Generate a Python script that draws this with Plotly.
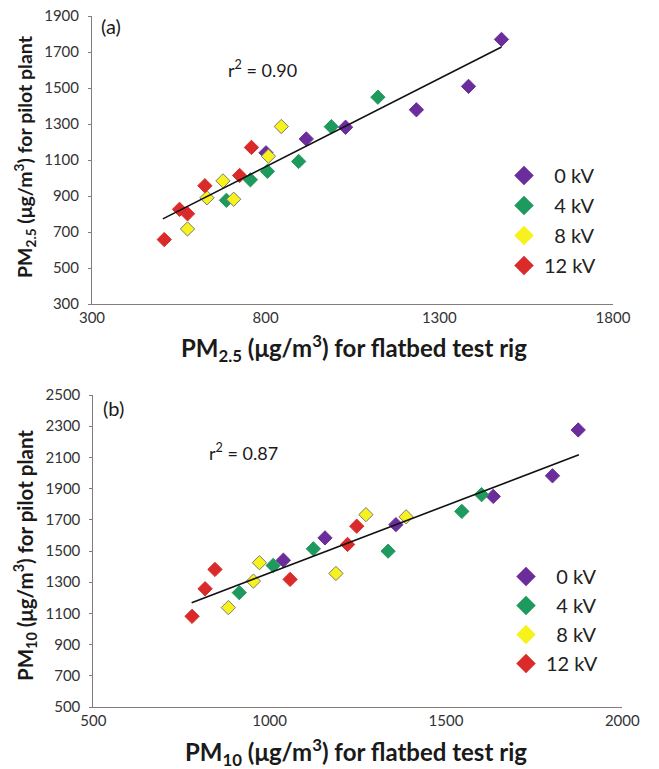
import plotly.graph_objects as go

W, H = 659, 769

series_names = ["0 kV", "4 kV", "8 kV", "12 kV"]
series_colors = ["#6B2D9C", "#1F9A5E", "#F7F21E", "#DA2A2A"]
series_outline = ["#6B2D9C", "#1F9A5E", "#7A7A7A", "#DA2A2A"]

# Panel (a): PM2.5
a_x_0kv = [1479, 1384, 1234, 1030, 917, 801]
a_y_0kv = [1770, 1509, 1379, 1282, 1217, 1140]
a_x_4kv = [1123, 989, 895, 805, 756, 687]
a_y_4kv = [1449, 1285, 1092, 1037, 990, 876]
a_x_8kv = [845, 808, 677, 631, 708, 575]
a_y_8kv = [1286, 1121, 984, 890, 882, 717]
a_x_12kv = [759, 725, 625, 552, 575, 508]
a_y_12kv = [1170, 1014, 957, 826, 801, 658]
a_fit_x = [504, 1479]
a_fit_y = [773, 1728]
a_xticks = [300, 800, 1300, 1800]
a_yticks = [300, 500, 700, 900, 1100, 1300, 1500, 1700, 1900]

# Panel (b): PM10
b_x_0kv = [1875, 1802, 1634, 1358, 1157, 1039]
b_y_0kv = [2276, 1982, 1850, 1669, 1584, 1441]
b_x_4kv = [1601, 1545, 1336, 1124, 1010, 914]
b_y_4kv = [1861, 1754, 1499, 1514, 1407, 1233]
b_x_8kv = [1387, 1273, 1188, 971, 954, 883]
b_y_8kv = [1719, 1733, 1356, 1425, 1307, 1137]
b_x_12kv = [1247, 1221, 1058, 845, 817, 780]
b_y_12kv = [1659, 1542, 1318, 1382, 1258, 1081]
b_fit_x = [779, 1877]
b_fit_y = [1169, 2117]
b_xticks = [500, 1000, 1500, 2000]
b_yticks = [500, 700, 900, 1100, 1300, 1500, 1700, 1900, 2100, 2300, 2500]

FONT = "Lato"


def px(x):
    return x / W


def py(y):
    return 1 - y / H


fig = go.Figure()

panels = [
    ("x", "y", "legend", [(a_x_0kv, a_y_0kv), (a_x_4kv, a_y_4kv), (a_x_8kv, a_y_8kv), (a_x_12kv, a_y_12kv)], a_fit_x, a_fit_y),
    ("x2", "y2", "legend2", [(b_x_0kv, b_y_0kv), (b_x_4kv, b_y_4kv), (b_x_8kv, b_y_8kv), (b_x_12kv, b_y_12kv)], b_fit_x, b_fit_y),
]
legend_labels = ["\u00a0\u00a00 kV", "\u00a0\u00a04 kV", "\u00a0\u00a08 kV", "12 kV"]

for xa, ya, lg, data, fx, fy in panels:
    for i, (xs, ys) in enumerate(data):
        fig.add_trace(go.Scatter(
            x=xs, y=ys, mode="markers", xaxis=xa, yaxis=ya, showlegend=False,
            marker=dict(symbol="diamond", size=11, color=series_colors[i],
                        line=dict(color=series_outline[i], width=1)),
        ))
    fig.add_trace(go.Scatter(x=fx, y=fy, mode="lines", xaxis=xa, yaxis=ya, showlegend=False,
                             line=dict(color="#111111", width=1.6)))
    for i, name in enumerate(series_names):
        fig.add_trace(go.Scatter(
            x=[None], y=[None], mode="markers", xaxis=xa, yaxis=ya, name=legend_labels[i],
            legend=lg, legendgroup=lg + name, showlegend=True,
            marker=dict(symbol="diamond", size=15, color=series_colors[i], line=dict(width=0)),
        ))

axis_common = dict(showgrid=False, zeroline=False, showline=True, linecolor="#857a7a", linewidth=1,
                   automargin=False, ticklabeloverflow="allow",
                   tickfont=dict(family=FONT, size=15, color="#333333"))

legend_common = dict(font=dict(family=FONT, size=20, color="#222222"), bgcolor="rgba(0,0,0,0)",
                     xanchor="left", yanchor="top", itemclick=False)

fig.update_layout(
    width=W, height=H, margin=dict(l=0, r=0, t=0, b=0, autoexpand=False),
    paper_bgcolor="white", plot_bgcolor="white",
    xaxis=dict(domain=[px(92), px(613)], range=[300, 1800], tickvals=a_xticks, anchor="y",
               ticks="", ticklabelstandoff=0, **axis_common),
    yaxis=dict(domain=[py(304), py(16)], range=[300, 1900], tickvals=a_yticks, anchor="x",
               ticks="outside", ticklen=3, tickcolor="#857a7a", ticklabelstandoff=6, **axis_common),
    xaxis2=dict(domain=[px(93.3), px(622.3)], range=[500, 2000], tickvals=b_xticks, anchor="y2",
                ticks="", ticklabelstandoff=0, **axis_common),
    yaxis2=dict(domain=[py(707), py(395)], range=[500, 2500], tickvals=b_yticks, anchor="x2",
                ticks="outside", ticklen=3, tickcolor="#857a7a", ticklabelstandoff=6, **axis_common),
    legend=dict(x=px(504), y=py(156), tracegroupgap=1, **legend_common),
    legend2=dict(x=px(506), y=py(557), tracegroupgap=0, **legend_common),
    showlegend=True,
)

ann = []


def A(text, x, y, size, angle=0, xanchor="center"):
    ann.append(dict(text=text, x=px(x), y=py(y), xref="paper", yref="paper", showarrow=False,
                    textangle=angle, xanchor=xanchor, yanchor="middle",
                    font=dict(family=FONT, size=size, color="#1a1a1a")))


A("(a)", 99, 26, 20, xanchor="left")
A("r<sup>2</sup> = 0.90", 262, 69, 18)
A("<b>PM<sub>2.5</sub> (μg/m<sup>3</sup>) for flatbed test rig</b>", 354, 348, 24)
A("<b>PM<sub>2.5</sub> (μg/m<sup>3</sup>) for pilot plant</b>", 25, 157, 19.5, angle=-90)
A("(b)", 101, 408, 20, xanchor="left")
A("r<sup>2</sup> = 0.87", 243, 452, 18)
A("<b>PM<sub>10</sub> (μg/m<sup>3</sup>) for flatbed test rig</b>", 356, 752, 24)
A("<b>PM<sub>10</sub> (μg/m<sup>3</sup>) for pilot plant</b>", 25, 556, 20.5, angle=-90)
fig.update_layout(annotations=ann)

fig.write_html("out.html", config={"displayModeBar": False},
               post_script="document.documentElement.style.margin='0';document.body.style.margin='0';")
